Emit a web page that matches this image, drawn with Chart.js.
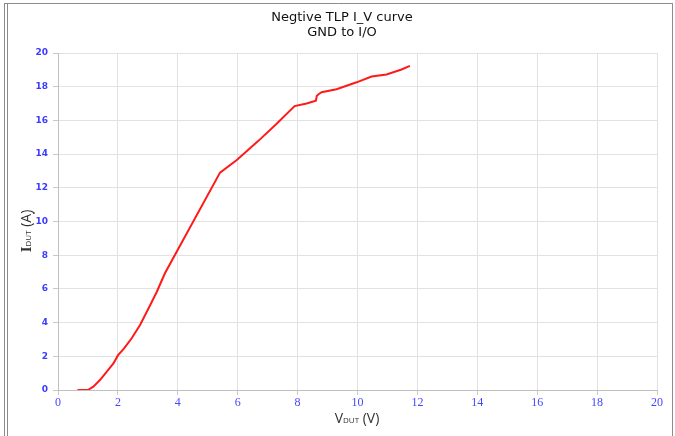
<!DOCTYPE html>
<html>
<head>
<meta charset="utf-8">
<script src="https://cdn.jsdelivr.net/npm/chart.js@4/dist/chart.umd.min.js"></script>
<style>
html,body{margin:0;padding:0;background:#fff;}
#wrap{position:relative;width:675px;height:436px;}
</style>
</head>
<body>
<div id="wrap"><canvas id="c" width="675" height="436"></canvas></div>
<script>
const titleLines = ["Negtive TLP I_V curve", "GND to I/O"];
const vDut = [0.65,1.0,1.18,1.4,1.63,1.85,2.0,2.2,2.46,2.74,3.05,3.3,3.57,5.41,5.97,6.7,7.3,7.9,8.3,8.61,8.64,8.7,8.8,9.3,9.97,10.47,10.97,11.47,11.75];
const iDut = [0,0,0.2,0.59,1.09,1.58,2.05,2.45,3.07,3.86,4.94,5.83,6.93,12.9,13.65,14.8,15.8,16.85,17.0,17.17,17.45,17.55,17.67,17.85,18.26,18.6,18.73,19.02,19.24];
const xTicks = [0,2,4,6,8,10,12,14,16,18,20];
const yTicks = [0,2,4,6,8,10,12,14,16,18,20];

const pts = vDut.map((v,i)=>({x:v,y:iDut[i]}));

const decor = {
  id:'decor',
  afterDraw(chart){
    const ctx = chart.ctx;
    ctx.save();
    // frame
    ctx.strokeStyle = '#8c8c8c';
    ctx.lineWidth = 1;
    ctx.beginPath();
    ctx.moveTo(4.5,3); ctx.lineTo(4.5,436);
    ctx.moveTo(7.5,3.5); ctx.lineTo(7.5,436);
    ctx.moveTo(4,3.5); ctx.lineTo(672.5,3.5);
    ctx.moveTo(672.5,3); ctx.lineTo(672.5,436);
    ctx.stroke();
    // title
    ctx.fillStyle = '#111';
    ctx.font = '13px "DejaVu Sans"';
    ctx.textAlign = 'center';
    ctx.textBaseline = 'middle';
    ctx.fillText(titleLines[0], 342, 18);
    ctx.fillText(titleLines[1], 342, 33);
    // x axis title
    const parts = [['V','14px "Open Sans"'],['DUT','8px "Open Sans"'],[' (V)','14px "Open Sans"']];
    let w = 0;
    parts.forEach(p=>{ctx.font=p[1]; w+=ctx.measureText(p[0]).width;});
    let x = 357 - w/2;
    ctx.textAlign='left';
    ctx.textBaseline='alphabetic';
    ctx.fillStyle='#333';
    parts.forEach(p=>{ctx.font=p[1]; ctx.fillText(p[0], x, 423); x+=ctx.measureText(p[0]).width;});
    // y axis title
    ctx.translate(31, 231);
    ctx.rotate(-Math.PI/2);
    const yp = [['I','bold 15px "Liberation Serif"'],['DUT','8px "Open Sans"'],[' (A)','14px "Open Sans"']];
    w = 0;
    yp.forEach(p=>{ctx.font=p[1]; w+=ctx.measureText(p[0]).width;});
    x = -w/2;
    yp.forEach(p=>{ctx.font=p[1]; ctx.fillText(p[0], x, 0); x+=ctx.measureText(p[0]).width;});
    ctx.restore();
    ctx.save();
    ctx.fillStyle='#333';
    ctx.font='bold 10px "Open Sans"';
    ctx.textAlign='center';
    ctx.fillText('.', 34, 214);
    ctx.restore();
  }
};

new Chart(document.getElementById('c'), {
  type:'scatter',
  data:{datasets:[{
    data:pts,
    showLine:true,
    borderColor:'#ff1a1a',
    borderWidth:2,
    pointRadius:0,
    tension:0
  }]},
  options:{
    responsive:false,
    animation:false,
    devicePixelRatio:1,
    layout:{padding:{left:0,top:53,right:18,bottom:0}},
    plugins:{legend:{display:false},tooltip:{enabled:false},title:{display:false}},
    scales:{
      x:{
        type:'linear',min:0,max:20,
        afterBuildTicks(s){s.ticks = xTicks.map(v=>({value:v}));},
        afterFit(s){s.height=46;},
        grid:{color:'#e2e2e2',tickLength:5,tickColor:'#c8c8c8'},
        border:{color:'#c0c0c0'},
        ticks:{color:'#4646ff',font:{family:'"Liberation Serif"',size:12},padding:1,maxRotation:0}
      },
      y:{
        type:'linear',min:0,max:20,
        afterBuildTicks(s){s.ticks = yTicks.map(v=>({value:v}));},
        afterFit(s){s.width=58;},
        grid:{color:'#e2e2e2',tickLength:5,tickColor:'#c8c8c8'},
        border:{color:'#c0c0c0'},
        ticks:{color:'#3c3cff',font:{family:'"DejaVu Sans"',size:9,weight:'bold'},padding:5}
      }
    }
  },
  plugins:[decor]
});
</script>
</body>
</html>
